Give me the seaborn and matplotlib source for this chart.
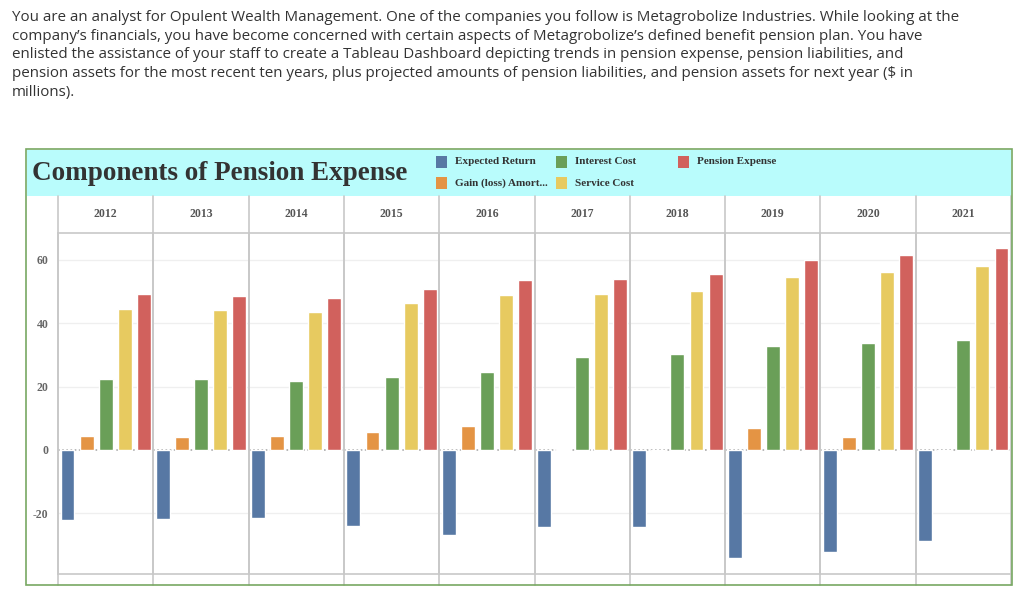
import pandas as pd
import matplotlib.pyplot as plt
import seaborn as sns
from matplotlib.patches import Rectangle
from matplotlib.lines import Line2D

# values ($ millions)
years = [2012, 2013, 2014, 2015, 2016, 2017, 2018, 2019, 2020, 2021]
components = ['Expected Return', 'Gain (loss) Amortization', 'Interest Cost',
              'Service Cost', 'Pension Expense']
expected_return = [-22.1, -21.8, -21.5, -24.0, -26.8, -24.5, -24.2, -34.3, -32.1, -28.9]
gain_loss_amort = [4.4, 4.1, 4.4, 5.8, 7.6, 0.3, -0.5, 6.9, 4.1, -0.3]
interest_cost = [22.3, 22.3, 21.7, 23.0, 24.6, 29.4, 30.3, 32.8, 33.8, 34.7]
service_cost = [44.6, 44.3, 43.4, 46.3, 48.8, 49.2, 50.2, 54.6, 56.2, 58.1]
pension_expense = [49.2, 48.7, 47.9, 50.7, 53.7, 54.0, 55.4, 60.0, 61.6, 63.8]

legend_labels = ['Expected Return', 'Gain (loss) Amort...', 'Interest Cost',
                 'Service Cost', 'Pension Expense']
colors = ['#5778a4', '#e49444', '#6a9f58', '#e7ca60', '#d1615d']
y_ticks = [-20, 0, 20, 40, 60]

intro = ("You are an analyst for Opulent Wealth Management. One of the companies you follow is Metagrobolize Industries. While looking at the\n"
         "company\u2019s financials, you have become concerned with certain aspects of Metagrobolize\u2019s defined benefit pension plan. You have\n"
         "enlisted the assistance of your staff to create a Tableau Dashboard depicting trends in pension expense, pension liabilities, and\n"
         "pension assets for the most recent ten years, plus projected amounts of pension liabilities, and pension assets for next year ($ in\n"
         "millions).")

rows = []
for i, yr in enumerate(years):
    vals = [expected_return[i], gain_loss_amort[i], interest_cost[i],
            service_cost[i], pension_expense[i]]
    for comp, v in zip(components, vals):
        rows.append({'year': yr, 'component': comp, 'value': v})
df = pd.DataFrame(rows)

sns.set_theme(style='white')
W, H = 1024, 593
fig = plt.figure(figsize=(W / 100, H / 100), dpi=100)


def fx(x):
    return x / W


def fy(y):
    return 1 - y / H


serif = 'Liberation Serif'
grid_col = '#c8c8c8'

# intro paragraph
fig.text(fx(12), fy(10), intro, ha='left', va='top', fontsize=10.9,
         family='Open Sans', color='#333333', linespacing=1.34)

# dashboard frame and header band
fig.patches.append(Rectangle((fx(27), fy(196)), fx(984), 46 / H,
                             transform=fig.transFigure, facecolor='#b9fcfc',
                             edgecolor='none', zorder=0))
fig.patches.append(Rectangle((fx(26), fy(585)), fx(986), 436 / H,
                             transform=fig.transFigure, fill=False,
                             edgecolor='#78a862', linewidth=1.2, zorder=5))
fig.text(fx(32), fy(173), 'Components of Pension Expense', ha='left', va='center',
         fontsize=19.5, family=serif, weight='bold', color='#333333')

# legend drawn by hand to match the dashboard layout
leg_pos = [(436, 162), (436, 183), (556, 162), (556, 183), (678, 162)]
for (lx, ly), lab, c in zip(leg_pos, legend_labels, colors):
    fig.patches.append(Rectangle((fx(lx), fy(ly + 6)), 11 / W, 12 / H,
                                 transform=fig.transFigure, facecolor=c,
                                 edgecolor='none'))
    fig.text(fx(lx + 19), fy(ly), lab, ha='left', va='center', fontsize=8,
             family=serif, weight='bold', color='#333333')

# facet panels
x0, x1 = 58, 1011
top, bottom = 233, 574
col_w = (x1 - x0) / len(years)
ymin, ymax = -39.2, 68.5

for i, yr in enumerate(years):
    left = x0 + i * col_w
    ax = fig.add_axes([fx(left), fy(bottom), col_w / W, (bottom - top) / H])
    sub = df[df['year'] == yr]
    for t in [-20, 20, 40, 60]:
        ax.axhline(t, color='#efefef', linewidth=0.9, zorder=0)
    ax.axhline(0, color='#aaaaaa', linewidth=1.2, linestyle=(0, (1, 1.5)), zorder=0.5)
    sns.barplot(data=sub, x='component', y='value', hue='component',
                order=components, hue_order=components, palette=colors,
                legend=False, width=0.73, errorbar=None, saturation=1, ax=ax,
                zorder=2)
    ax.set_xlim(-0.5, 4.5)
    ax.set_ylim(ymin, ymax)
    ax.set_xlabel('')
    ax.set_ylabel('')
    ax.set_xticks([])
    for s in ['top', 'right']:
        ax.spines[s].set_visible(False)
    ax.spines['bottom'].set_color(grid_col)
    ax.spines['left'].set_color(grid_col)
    ax.spines['bottom'].set_linewidth(1.2)
    ax.spines['left'].set_linewidth(1.2)
    ax.set_facecolor('none')
    if i == 0:
        ax.set_yticks(y_ticks)
        ax.set_yticklabels([str(t) for t in y_ticks], family=serif, weight='bold',
                           fontsize=8.5, color='#666666')
        ax.tick_params(axis='y', length=0, pad=7)
    else:
        ax.set_yticks([])
    fig.text(fx(left + col_w / 2), fy(214), str(yr), ha='center', va='center',
             fontsize=8.5, family=serif, weight='bold', color='#555555')

# header row lines and column dividers
fig.add_artist(Line2D([fx(x0), fx(x1)], [fy(top), fy(top)], color=grid_col, linewidth=1.2))
for i in range(len(years) + 1):
    xx = fx(x0 + i * col_w)
    fig.add_artist(Line2D([xx, xx], [fy(196), fy(585)], color=grid_col, linewidth=1.2))

fig.savefig('out.png', dpi=100)
